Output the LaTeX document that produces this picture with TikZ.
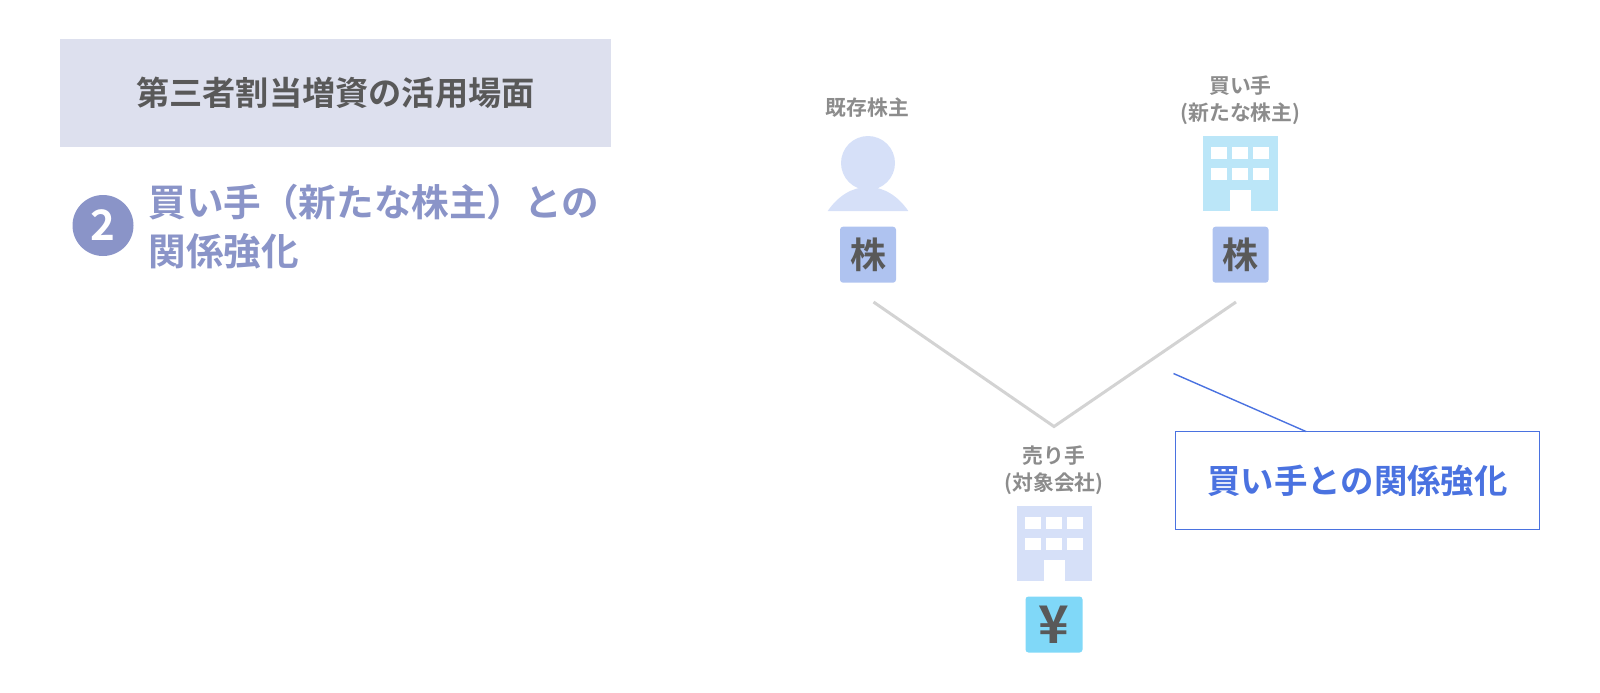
\documentclass[tikz,border=0pt]{standalone}
\usepackage{fontspec}
\setmainfont{Noto Sans CJK JP}[BoldFont={Noto Sans CJK JP Bold}]
\definecolor{headfill}{HTML}{DDE0EE}
\definecolor{darktext}{HTML}{595959}
\definecolor{subtext}{HTML}{8A94C8}
\definecolor{graytext}{HTML}{8C8C8C}
\definecolor{paleblue}{HTML}{D6E0F8}
\definecolor{skyblue}{HTML}{BBE6F8}
\definecolor{kabufill}{HTML}{AFC3F0}
\definecolor{yenfill}{HTML}{80D8F8}
\definecolor{callblue}{HTML}{4A72E0}
\definecolor{linegray}{HTML}{D3D3D3}
\tikzset{
  who/.style={align=center,text=graytext,font=\bfseries\fontsize{10.4}{13.4}\selectfont},
  tag/.style={rounded corners=1.5pt,minimum width=28pt,minimum height=28pt,inner sep=0pt,
    text=darktext,font=\bfseries\fontsize{18}{18}\selectfont},
  subline/.style={anchor=west,inner sep=0pt,text=subtext,font=\bfseries\fontsize{18.8}{18.8}\selectfont}
}
% building drawn from its top left corner
\newcommand{\building}[3]{
  \fill[#3] (#1,#2) rectangle ++(74.5,75);
  \foreach \wx in {8,29,50}
    \foreach \wy in {10.7,31.7}
      \fill[white] (#1+\wx,#2+\wy) rectangle ++(16,12.2);
  \fill[white] (#1+26.7,#2+54) rectangle ++(21.3,21);
}
\begin{document}
\begin{tikzpicture}[x=0.5pt,y=-0.5pt]
\useasboundingbox (0,0) rectangle (1600,692);

\node[fill=headfill,minimum width=275.5pt,minimum height=54pt,inner sep=0pt,text=darktext,
  font=\bfseries\fontsize{16.6}{16.6}\selectfont] (head) at (335.5,93) {第三者割当増資の活用場面};
\node[circle,fill=subtext,minimum size=30.5pt,inner sep=0pt,text=white,
  font=\bfseries\fontsize{21}{21}\selectfont] (num) at (103,225.5) {2};
\node[subline] (sub1) at (148,202) {買い手（新たな株主）との};
\node[subline] (sub2) at (148,251) {関係強化};

\node[who] (holder) at (867.5,108) {既存株主};
\node[who] (buyer) at (1240.5,100) {買い手\\(新たな株主)};
\node[who] (seller) at (1054,470) {売り手\\(対象会社)};

% person
\fill[paleblue] (868,163) circle (27);
\fill[paleblue] (827.7,211) .. controls (838,196) and (852,187) .. (868,187)
  .. controls (884,187) and (898,196) .. (908.3,211) -- cycle;

\building{1203.3}{136}{skyblue}
\building{1017.3}{506}{paleblue}

\node[tag,fill=kabufill] (kabu1) at (868,254.7) {\raisebox{-1pt}{株}};
\node[tag,fill=kabufill] (kabu2) at (1240.5,254.7) {\raisebox{-1pt}{株}};
\node[tag,fill=yenfill,minimum width=28.5pt,font=\bfseries\fontsize{26}{26}\selectfont] (yen) at (1054,624.5) {¥};

\coordinate (vleft) at (873.5,302);
\coordinate (vright) at (1236,302);
\coordinate (vapex) at (1054,426.5);
\draw[linegray,line width=1.5pt] (vleft) -- (vapex) -- (vright);

\node[draw=callblue,line width=0.7pt,minimum width=182pt,minimum height=49pt,inner sep=0pt,text=callblue,
  font=\bfseries\fontsize{16.7}{16.7}\selectfont] (callbox) at (1357.5,480.5) {\raisebox{-0.5pt}{買い手との関係強化}};
\coordinate (callfrom) at (1173.5,373.5);
\coordinate (callto) at (1306,431.5);
\draw[callblue,line width=0.7pt] (callfrom) -- (callto);

\end{tikzpicture}
\end{document}
